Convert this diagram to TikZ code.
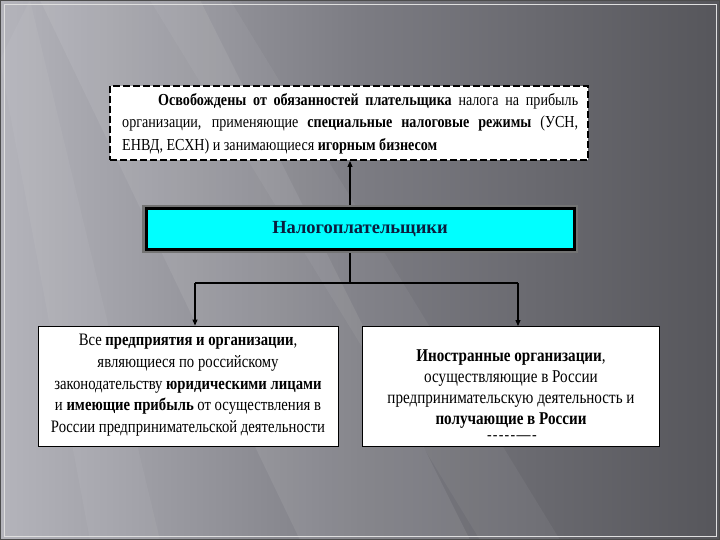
\documentclass[tikz,border=0pt]{standalone}
\usepackage{fontspec}
\setmainfont{Liberation Serif}[FakeStretch=0.84]
\newfontfamily\widefont{Liberation Serif}
\usetikzlibrary{arrows.meta}
\definecolor{bgL}{HTML}{B4B4BB}
\definecolor{bgM}{HTML}{7C7C83}
\definecolor{bgR}{HTML}{56565B}
\definecolor{cyanbox}{HTML}{00FFFF}
\definecolor{navy}{HTML}{0B1D3D}
\begin{document}
\begin{tikzpicture}[x=1pt,y=-1pt,
  conn/.style={draw=black, line width=1.1pt},
  arr/.style={conn, -{Triangle[length=6pt,width=5pt]}},
  whitebox/.style={draw=black, fill=white, line width=0.9pt, inner sep=0pt},
]
% background
\path[use as bounding box] (0,0) rectangle (720,540);
\shade[left color=bgL, right color=bgR, middle color=bgM] (0,0) rectangle (720,540);
\fill[white, opacity=0.08] (40,0) -- (200,0) -- (470,540) -- (300,540) -- cycle;
\fill[white, opacity=0.05] (150,0) -- (230,0) -- (560,540) -- (480,540) -- cycle;
\fill[white, opacity=0.05] (0,60) -- (30,0) -- (160,540) -- (90,540) -- cycle;
\draw[black!70, line width=1.2pt] (0.6,0.6) rectangle (719.4,539.4);
\draw[white!75!gray, line width=0.5pt] (4,4) rectangle (716,536);

% top box
\node[draw=black, fill=white, line width=1.6pt, dash pattern=on 7pt off 3pt,
      minimum width=478pt, minimum height=74pt, inner sep=0pt] (top) at (349,123) {};
\node[anchor=north west, inner sep=0pt, text width=456pt, align=justify, font=\fontsize{16.8}{22.5}\selectfont]
  (toptext) at (122,93) {\hspace*{36pt}\textbf{Освобождены от обязанностей плательщика} налога на прибыль\linebreak
  организации, применяющие \textbf{специальные налоговые режимы} (УСН,\linebreak
  ЕНВД, ЕСХН) и занимающиеся \textbf{игорным бизнесом}};

% middle box
\fill[black!55] (142,205) rectangle (578,253);
\node[draw=black, fill=cyanbox, line width=3pt, minimum width=428pt, minimum height=40pt, inner sep=0pt,
      font=\widefont\fontsize{18.5}{20}\selectfont\bfseries, text=navy] (mid) at (360,229) {Налогоплательщики};

% bottom boxes
\node[whitebox, minimum width=300pt, minimum height=120pt] (left) at (188,386) {};
\node[inner sep=0pt, align=center, anchor=north, font=\fontsize{17.5}{21.7}\selectfont] (lefttext) at (188,334)
  {Все \textbf{предприятия и организации},\\
   являющиеся по российскому\\
   законодательству \textbf{юридическими лицами}\\
   и \textbf{имеющие прибыль} от осуществления в\\
   России предпринимательской деятельности};
\node[whitebox, minimum width=297pt, minimum height=120pt] (right) at (510.5,386.5) {};
\node[inner sep=0pt, align=center, anchor=north, font=\fontsize{18}{21}\selectfont] (righttext) at (511,350)
  {\textbf{Иностранные организации},\\
   осуществляющие в России\\
   предпринимательскую деятельность и\\
   \textbf{получающие в России}};
\node[inner sep=0pt, anchor=center, font=\widefont\fontsize{14}{14}\selectfont\bfseries] (dash) at (512,438) {-\kern1.2pt-\kern1.2pt-\kern1.2pt-\kern1.2pt-\kern1.5pt—\kern1.5pt-};

% connectors
\coordinate (upfoot) at (350,205);
\coordinate (uptip) at (350,161);
\draw[arr] (upfoot) -- (uptip);
\coordinate (downtop) at (350,253);
\coordinate (jn) at (350,283);
\coordinate (jl) at (195,283);
\coordinate (jr) at (518,283);
\draw[conn] (downtop) -- (jn);
\draw[conn] (jl) -- (jr);
\draw[arr] (jl) -- (jl |- left.north);
\draw[arr] (jr) -- (jr |- right.north);
\end{tikzpicture}
\end{document}
